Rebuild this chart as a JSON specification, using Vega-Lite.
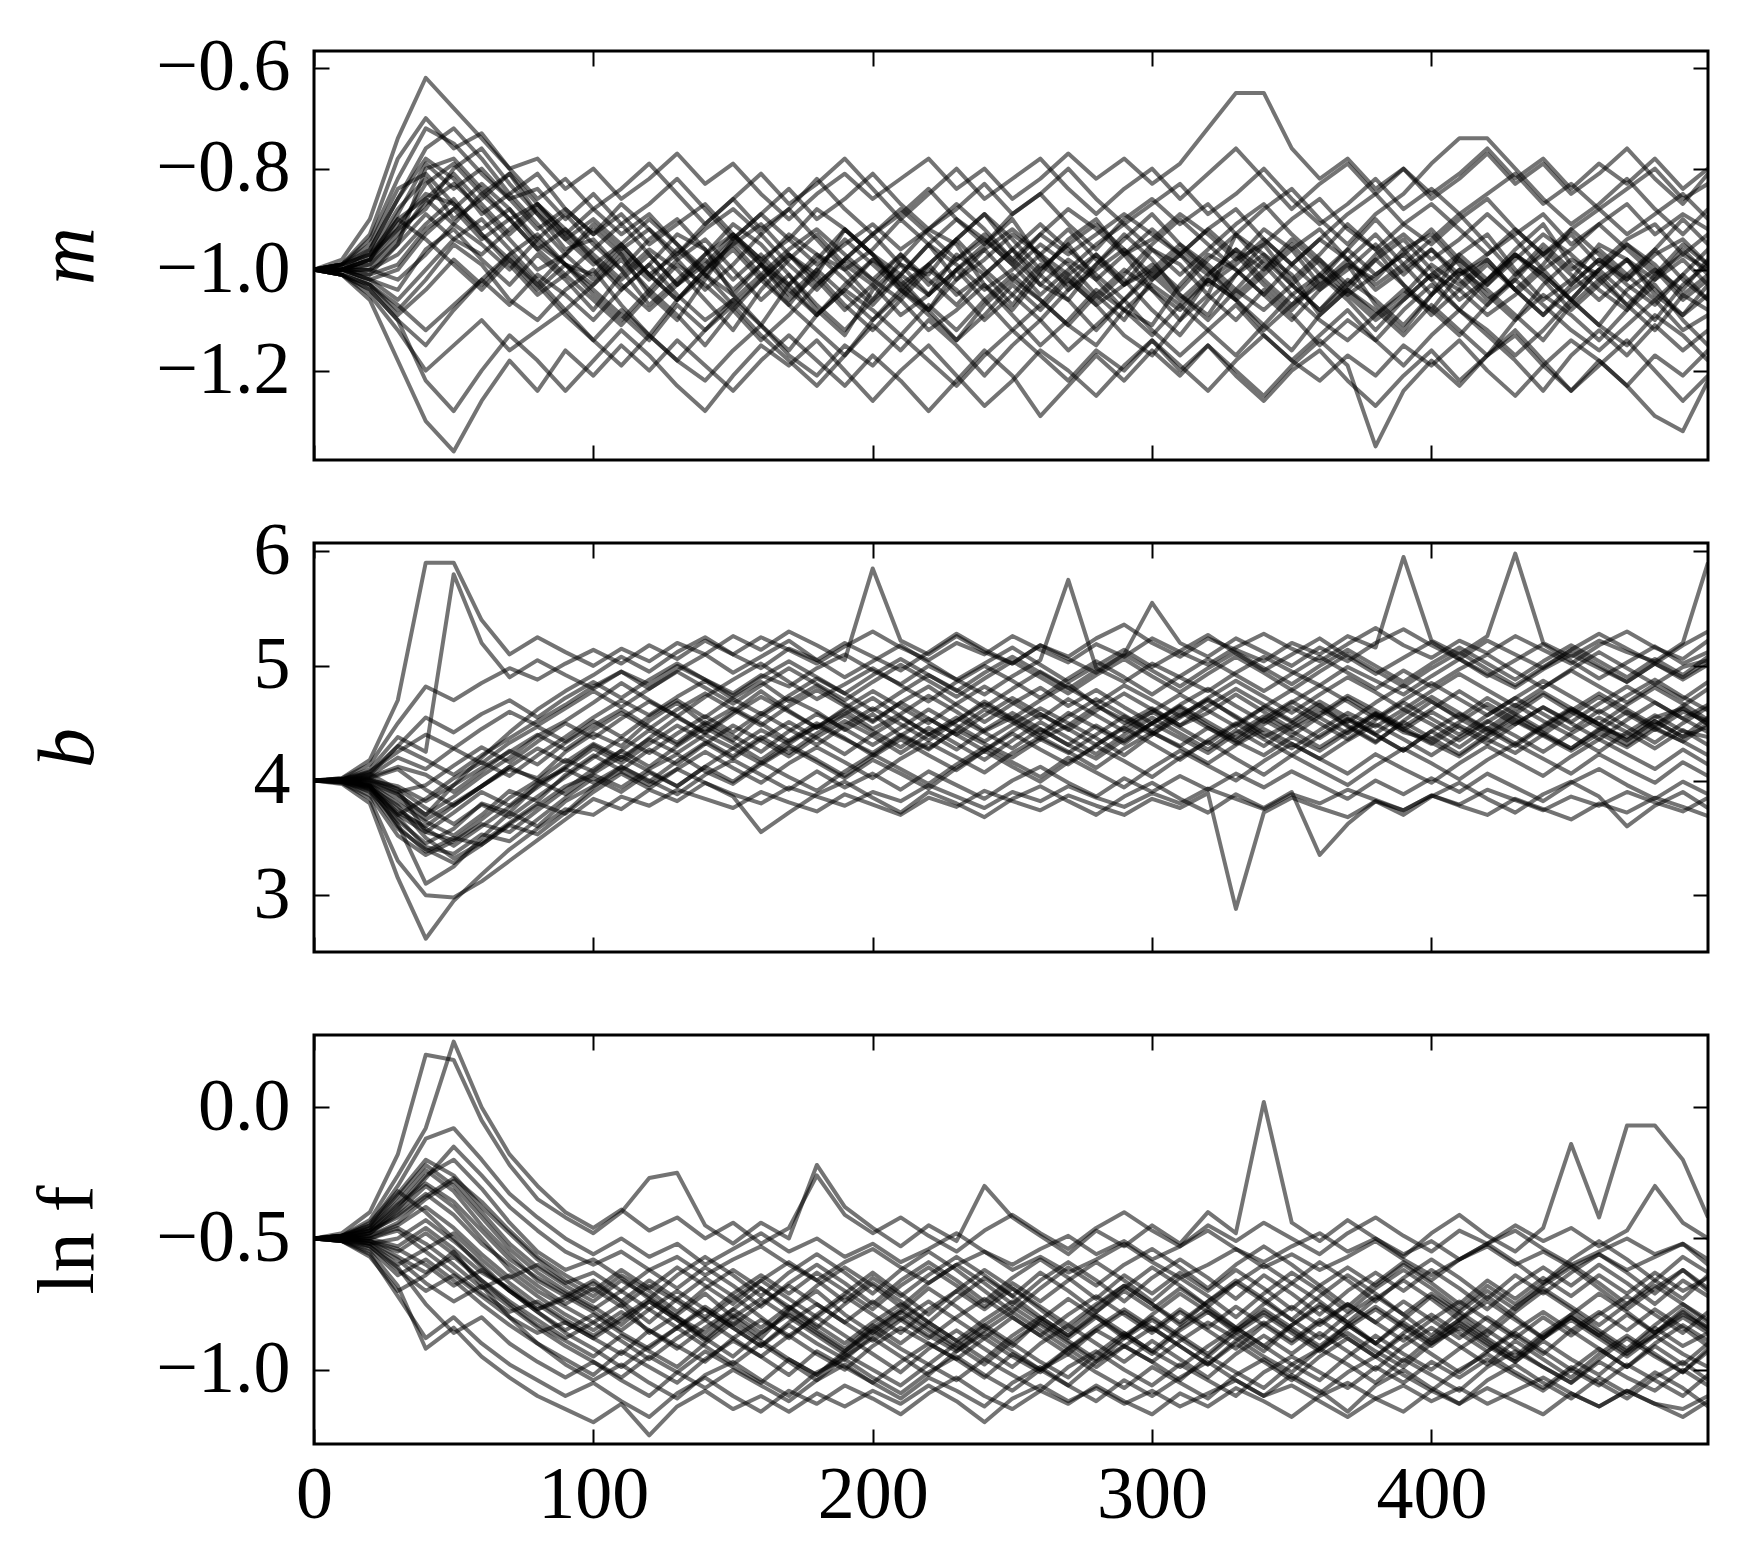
{
"$schema":"https://vega.github.io/schema/vega-lite/v6.json",
"background":"white",
"padding":{"left":26,"top":29,"right":10,"bottom":10},
"config":{
 "font":"Liberation Serif",
 "view":{"stroke":"black","strokeWidth":3},
 "axis":{"domain":false,"grid":false,"tickColor":"black","tickWidth":2,"tickSize":-15,"labelFont":"Liberation Serif","labelFontSize":74,"labelColor":"black","titleFont":"Liberation Serif","titleFontSize":80,"titleColor":"black","titleFontWeight":"normal","labelFlush":false,"labelOverlap":false}
},
"datasets":{
"frame":[{"s":0,"m":-1,"b":4,"f":-0.5}],
"walkers":[
{"w":1,"s":[0,10,20,30,40,50,60,70,80,90,100,110,120,130,140,150,160,170,180,190,200,210,220,230,240,250,260,270,280,290,300,310,320,330,340,350,360,370,380,390,400,410,420,430,440,450,460,470,480,490,499],
"m":[-1.00,-1.00,-0.98,-0.91,-0.85,-0.87,-0.92,-0.88,-0.95,-0.99,-1.03,-0.97,-1.05,-1.10,-1.02,-0.94,-0.99,-1.06,-1.01,-0.92,-0.97,-1.04,-1.08,-1.00,-0.95,-0.90,-0.98,-1.02,-1.07,-1.03,-0.96,-0.99,-1.05,-0.93,-0.97,-1.01,-1.09,-1.04,-0.98,-0.94,-1.00,-1.06,-1.02,-0.96,-0.91,-0.99,-1.04,-1.08,-1.01,-0.97,-1.00],
"b":[4.00,4.00,3.95,3.72,3.60,3.78,3.95,4.10,4.02,4.25,4.41,4.30,4.52,4.68,4.49,4.35,4.56,4.72,4.60,4.44,4.58,4.39,4.27,4.45,4.62,4.51,4.36,4.48,4.65,4.53,4.40,4.57,4.71,4.55,4.38,4.50,4.66,4.47,4.33,4.52,4.69,4.54,4.41,4.58,4.75,4.60,4.46,4.38,4.55,4.63,4.49],
"f":[-0.50,-0.50,-0.48,-0.40,-0.30,-0.38,-0.50,-0.62,-0.70,-0.76,-0.82,-0.75,-0.86,-0.79,-0.71,-0.80,-0.88,-0.77,-0.70,-0.79,-0.86,-0.78,-0.69,-0.76,-0.84,-0.91,-0.81,-0.73,-0.80,-0.88,-0.79,-0.71,-0.78,-0.86,-0.93,-0.83,-0.75,-0.82,-0.90,-0.81,-0.72,-0.79,-0.87,-0.78,-0.70,-0.77,-0.85,-0.92,-0.83,-0.75,-0.81]},
{"w":2,"s":[0,10,20,30,40,50,60,70,80,90,100,110,120,130,140,150,160,170,180,190,200,210,220,230,240,250,260,270,280,290,300,310,320,330,340,350,360,370,380,390,400,410,420,430,440,450,460,470,480,490,499],
"m":[-1.00,-1.00,-1.01,-0.95,-0.80,-0.78,-0.84,-0.90,-0.87,-0.93,-0.98,-1.04,-0.99,-0.93,-0.96,-1.05,-1.11,-1.03,-0.97,-1.00,-1.06,-0.98,-0.92,-0.95,-1.03,-1.08,-1.01,-0.94,-0.90,-0.97,-1.04,-1.10,-1.02,-0.98,-0.92,-0.96,-1.03,-0.99,-1.07,-1.12,-1.05,-0.97,-0.93,-1.00,-1.06,-1.02,-0.95,-0.98,-1.05,-1.09,-1.03],
"b":[4.00,4.01,4.06,3.92,3.55,3.48,3.66,3.85,4.00,4.18,4.08,4.26,4.44,4.31,4.49,4.63,4.50,4.34,4.47,4.61,4.45,4.58,4.74,4.60,4.43,4.55,4.41,4.59,4.46,4.32,4.50,4.64,4.48,4.35,4.53,4.39,4.56,4.72,4.57,4.42,4.36,4.51,4.67,4.53,4.40,4.57,4.73,4.58,4.44,4.60,4.52],
"f":[-0.50,-0.49,-0.46,-0.36,-0.24,-0.32,-0.45,-0.56,-0.66,-0.72,-0.66,-0.74,-0.82,-0.73,-0.65,-0.72,-0.80,-0.88,-0.79,-0.71,-0.63,-0.71,-0.79,-0.70,-0.62,-0.69,-0.77,-0.85,-0.76,-0.68,-0.75,-0.83,-0.74,-0.66,-0.73,-0.81,-0.72,-0.64,-0.71,-0.79,-0.87,-0.78,-0.70,-0.77,-0.68,-0.61,-0.69,-0.77,-0.69,-0.62,-0.70]},
{"w":3,"s":[0,10,20,30,40,50,60,70,80,90,100,110,120,130,140,150,160,170,180,190,200,210,220,230,240,250,260,270,280,290,300,310,320,330,340,350,360,370,380,390,400,410,420,430,440,450,460,470,480,490,499],
"m":[-1.00,-0.99,-0.97,-0.88,-0.82,-0.90,-0.86,-0.81,-0.89,-0.96,-0.94,-1.00,-1.07,-1.02,-0.97,-0.91,-0.95,-1.01,-1.08,-1.13,-1.04,-0.99,-1.01,-0.94,-0.89,-0.96,-1.03,-1.06,-0.99,-0.93,-0.98,-1.05,-1.09,-1.01,-0.95,-1.02,-0.97,-0.91,-0.96,-1.03,-1.08,-1.01,-0.98,-1.04,-0.99,-0.92,-0.97,-1.02,-0.96,-0.90,-0.95],
"b":[4.00,3.99,3.91,3.65,3.45,3.58,3.80,3.72,3.96,4.12,4.31,4.18,4.37,4.55,4.42,4.60,4.78,4.61,4.46,4.58,4.72,4.56,4.40,4.52,4.69,4.54,4.70,4.84,4.66,4.50,4.63,4.48,4.59,4.75,4.60,4.45,4.58,4.74,4.61,4.47,4.62,4.78,4.63,4.49,4.64,4.51,4.67,4.82,4.68,4.54,4.66],
"f":[-0.50,-0.50,-0.51,-0.55,-0.48,-0.56,-0.66,-0.75,-0.83,-0.89,-0.95,-0.87,-0.93,-0.99,-0.90,-0.82,-0.89,-0.96,-1.02,-0.93,-0.85,-0.92,-0.98,-0.90,-0.83,-0.90,-0.97,-1.03,-0.94,-0.86,-0.93,-0.99,-0.91,-0.84,-0.91,-0.98,-1.04,-0.95,-0.87,-0.94,-1.00,-0.92,-0.85,-0.92,-0.99,-1.05,-0.96,-0.88,-0.95,-1.01,-0.93]},
{"w":4,"s":[0,10,20,30,40,50,60,70,80,90,100,110,120,130,140,150,160,170,180,190,200,210,220,230,240,250,260,270,280,290,300,310,320,330,340,350,360,370,380,390,400,410,420,430,440,450,460,470,480,490,499],
"m":[-1.00,-1.00,-1.02,-1.04,-0.96,-0.92,-0.98,-1.03,-0.97,-1.02,-1.08,-1.01,-0.96,-1.00,-1.06,-1.12,-1.04,-0.98,-0.93,-0.99,-1.03,-1.09,-1.05,-0.97,-1.01,-1.07,-1.00,-0.95,-1.02,-1.08,-1.11,-1.03,-0.97,-1.00,-1.05,-1.10,-1.04,-0.99,-1.02,-0.96,-0.93,-0.99,-1.05,-1.10,-1.03,-0.98,-1.01,-1.07,-1.12,-1.05,-1.08],
"b":[4.00,4.00,4.03,4.12,4.05,3.90,4.08,4.26,4.14,4.33,4.48,4.62,4.47,4.33,4.51,4.39,4.25,4.43,4.58,4.45,4.31,4.46,4.62,4.48,4.34,4.49,4.63,4.50,4.37,4.22,4.40,4.55,4.70,4.56,4.41,4.28,4.44,4.59,4.47,4.62,4.49,4.35,4.51,4.66,4.52,4.39,4.25,4.42,4.57,4.43,4.38],
"f":[-0.50,-0.50,-0.49,-0.44,-0.35,-0.28,-0.40,-0.52,-0.61,-0.68,-0.74,-0.66,-0.72,-0.80,-0.86,-0.77,-0.69,-0.76,-0.84,-0.75,-0.67,-0.74,-0.82,-0.73,-0.65,-0.72,-0.80,-0.87,-0.78,-0.70,-0.77,-0.69,-0.76,-0.84,-0.75,-0.67,-0.74,-0.82,-0.73,-0.66,-0.73,-0.81,-0.72,-0.80,-0.88,-0.79,-0.71,-0.78,-0.86,-0.77,-0.84]},
{"w":5,"s":[0,10,20,30,40,50,60,70,80,90,100,110,120,130,140,150,160,170,180,190,200,210,220,230,240,250,260,270,280,290,300,310,320,330,340,350,360,370,380,390,400,410,420,430,440,450,460,470,480,490,499],
"m":[-1.00,-1.00,-0.99,-0.93,-0.87,-0.83,-0.88,-0.94,-1.00,-0.97,-0.91,-0.96,-0.92,-0.98,-1.04,-0.99,-0.93,-0.88,-0.94,-1.00,-0.96,-0.90,-0.95,-1.02,-0.98,-0.93,-0.97,-1.04,-0.99,-0.94,-0.89,-0.95,-1.00,-1.06,-1.01,-0.96,-0.92,-0.98,-1.03,-0.99,-0.94,-0.89,-0.95,-1.01,-0.97,-0.93,-0.99,-0.94,-0.91,-0.97,-0.93],
"b":[4.00,4.00,3.97,3.80,3.64,3.52,3.70,3.91,3.82,4.05,4.22,4.09,4.27,4.14,4.32,4.48,4.35,4.21,4.38,4.52,4.39,4.24,4.40,4.55,4.42,4.28,4.45,4.31,4.19,4.36,4.50,4.37,4.24,4.41,4.56,4.43,4.29,4.44,4.59,4.46,4.33,4.21,4.38,4.52,4.39,4.26,4.41,4.29,4.45,4.34,4.22],
"f":[-0.50,-0.51,-0.53,-0.62,-0.70,-0.64,-0.72,-0.80,-0.86,-0.82,-0.88,-0.94,-0.85,-0.91,-0.97,-0.88,-0.81,-0.87,-0.94,-1.00,-0.91,-0.84,-0.90,-0.96,-0.88,-0.95,-1.01,-0.92,-0.85,-0.91,-0.97,-0.89,-0.82,-0.88,-0.95,-1.01,-0.92,-0.86,-0.93,-0.99,-0.90,-0.84,-0.91,-0.97,-0.89,-0.96,-1.02,-0.93,-0.87,-0.94,-0.99]},
{"w":6,"s":[0,10,20,30,40,50,60,70,80,90,100,110,120,130,140,150,160,170,180,190,200,210,220,230,240,250,260,270,280,290,300,310,320,330,340,350,360,370,380,390,400,410,420,430,440,450,460,470,480,490,499],
"m":[-1.00,-1.01,-1.03,-1.08,-1.02,-0.95,-0.99,-1.06,-1.10,-1.04,-1.00,-1.07,-1.13,-1.06,-1.01,-1.05,-0.99,-1.03,-1.09,-1.04,-0.98,-1.02,-1.08,-1.14,-1.07,-1.02,-1.06,-1.11,-1.05,-1.00,-1.04,-1.08,-1.02,-1.06,-1.12,-1.07,-1.01,-1.05,-1.10,-1.06,-1.01,-1.04,-1.09,-1.05,-1.00,-1.06,-1.11,-1.04,-1.00,-1.06,-1.02],
"b":[4.00,3.99,3.93,3.70,3.84,4.02,4.16,4.04,4.22,4.38,4.55,4.70,4.57,4.73,4.87,4.71,4.58,4.74,4.89,4.76,4.61,4.77,4.92,4.79,4.64,4.80,4.95,4.81,4.67,4.83,4.70,4.56,4.72,4.87,4.73,4.59,4.75,4.90,4.77,4.62,4.78,4.93,4.79,4.65,4.81,4.96,4.82,4.68,4.84,4.71,4.86],
"f":[-0.50,-0.50,-0.47,-0.38,-0.26,-0.20,-0.31,-0.44,-0.55,-0.62,-0.58,-0.65,-0.73,-0.64,-0.57,-0.64,-0.72,-0.63,-0.56,-0.63,-0.71,-0.62,-0.55,-0.62,-0.70,-0.78,-0.69,-0.61,-0.68,-0.60,-0.54,-0.61,-0.69,-0.60,-0.53,-0.60,-0.68,-0.76,-0.67,-0.59,-0.66,-0.58,-0.52,-0.59,-0.67,-0.58,-0.51,-0.58,-0.66,-0.57,-0.63]},
{"w":7,"s":[0,10,20,30,40,50,60,70,80,90,100,110,120,130,140,150,160,170,180,190,200,210,220,230,240,250,260,270,280,290,300,310,320,330,340,350,360,370,380,390,400,410,420,430,440,450,460,470,480,490,499],
"m":[-1.00,-1.00,-0.98,-0.89,-0.79,-0.84,-0.80,-0.86,-0.92,-0.88,-0.93,-0.89,-0.95,-0.91,-0.87,-0.93,-0.98,-0.94,-0.88,-0.92,-0.97,-1.01,-0.95,-0.90,-0.94,-0.99,-0.93,-0.88,-0.92,-0.97,-0.94,-0.89,-0.93,-0.98,-0.95,-0.90,-0.86,-0.92,-0.96,-0.91,-0.87,-0.92,-0.97,-0.93,-0.89,-0.95,-0.91,-0.87,-0.93,-0.89,-0.92],
"b":[4.00,4.00,3.96,3.60,3.38,3.50,3.44,3.62,3.78,3.95,4.05,3.94,4.10,4.23,4.08,3.97,4.14,4.29,4.16,4.02,4.18,4.06,3.93,4.11,4.26,4.12,3.99,4.16,4.30,4.17,4.03,4.20,4.34,4.19,4.05,4.22,4.09,3.96,4.13,4.28,4.15,4.01,4.18,4.32,4.19,4.06,4.23,4.10,3.98,4.16,4.04],
"f":[-0.50,-0.50,-0.52,-0.50,-0.43,-0.51,-0.60,-0.70,-0.78,-0.85,-0.79,-0.86,-0.92,-0.84,-0.77,-0.84,-0.91,-0.83,-0.90,-0.96,-0.87,-0.80,-0.87,-0.93,-0.85,-0.78,-0.85,-0.92,-0.84,-0.77,-0.84,-0.91,-0.98,-0.89,-0.82,-0.89,-0.81,-0.88,-0.95,-0.86,-0.79,-0.86,-0.93,-0.85,-0.78,-0.85,-0.92,-0.99,-0.90,-0.83,-0.89]},
{"w":8,"s":[0,10,20,30,40,50,60,70,80,90,100,110,120,130,140,150,160,170,180,190,200,210,220,230,240,250,260,270,280,290,300,310,320,330,340,350,360,370,380,390,400,410,420,430,440,450,460,470,480,490,499],
"m":[-1.00,-1.00,-1.00,-0.97,-0.91,-0.86,-0.93,-0.99,-1.05,-1.01,-1.06,-1.11,-1.05,-0.99,-1.03,-1.08,-1.14,-1.09,-1.03,-0.98,-1.02,-1.06,-1.12,-1.08,-1.03,-1.09,-1.15,-1.10,-1.04,-1.08,-1.13,-1.07,-1.02,-1.06,-1.11,-1.16,-1.09,-1.04,-1.08,-1.13,-1.07,-1.12,-1.17,-1.10,-1.05,-1.09,-1.14,-1.08,-1.03,-1.10,-1.15],
"b":[4.00,4.01,4.02,3.88,3.70,3.86,4.04,4.20,4.39,4.52,4.68,4.85,4.70,4.56,4.73,4.88,5.02,4.86,4.71,4.84,4.98,4.83,4.69,4.86,5.00,4.87,4.72,4.89,5.04,4.90,4.75,4.91,5.06,4.92,4.78,4.93,5.08,4.94,4.80,4.96,4.82,4.97,5.10,4.95,4.81,4.97,5.12,4.98,4.84,4.99,5.05],
"f":[-0.50,-0.49,-0.45,-0.33,-0.20,-0.26,-0.38,-0.48,-0.58,-0.66,-0.72,-0.64,-0.70,-0.78,-0.69,-0.62,-0.69,-0.77,-0.68,-0.61,-0.68,-0.76,-0.67,-0.60,-0.67,-0.75,-0.66,-0.59,-0.66,-0.74,-0.65,-0.58,-0.65,-0.73,-0.64,-0.71,-0.79,-0.70,-0.63,-0.70,-0.62,-0.69,-0.77,-0.68,-0.61,-0.68,-0.60,-0.67,-0.75,-0.66,-0.72]},
{"w":9,"s":[0,10,20,30,40,50,60,70,80,90,100,110,120,130,140,150,160,170,180,190,200,210,220,230,240,250,260,270,280,290,300,310,320,330,340,350,360,370,380,390,400,410,420,430,440,450,460,470,480,490,499],
"m":[-1.00,-0.99,-0.96,-0.86,-0.78,-0.82,-0.89,-0.85,-0.91,-0.97,-1.02,-0.96,-1.01,-1.06,-1.00,-0.95,-0.91,-0.97,-1.03,-0.98,-0.93,-0.99,-1.05,-1.00,-0.96,-1.02,-0.97,-0.92,-0.98,-1.03,-0.99,-1.04,-0.98,-0.93,-0.99,-1.05,-1.01,-0.96,-0.90,-0.96,-1.02,-0.98,-1.03,-0.97,-1.01,-1.06,-1.00,-0.95,-1.00,-1.04,-0.98],
"b":[4.00,3.98,3.87,3.52,3.35,3.47,3.62,3.55,3.74,3.92,4.10,4.26,4.12,4.30,4.46,4.33,4.18,4.35,4.50,4.37,4.22,4.39,4.54,4.40,4.26,4.43,4.58,4.45,4.31,4.47,4.60,4.46,4.32,4.49,4.64,4.51,4.37,4.53,4.40,4.26,4.43,4.58,4.44,4.30,4.47,4.62,4.49,4.35,4.52,4.38,4.47],
"f":[-0.50,-0.50,-0.50,-0.47,-0.55,-0.63,-0.71,-0.78,-0.74,-0.81,-0.87,-0.80,-0.73,-0.80,-0.88,-0.95,-0.86,-0.79,-0.86,-0.93,-0.84,-0.77,-0.84,-0.91,-0.98,-0.89,-0.82,-0.89,-0.96,-0.87,-0.80,-0.87,-0.94,-0.85,-0.78,-0.85,-0.92,-0.83,-0.90,-0.97,-0.88,-0.81,-0.88,-0.95,-0.86,-0.79,-0.86,-0.93,-0.84,-0.91,-0.86]},
{"w":10,"s":[0,10,20,30,40,50,60,70,80,90,100,110,120,130,140,150,160,170,180,190,200,210,220,230,240,250,260,270,280,290,300,310,320,330,340,350,360,370,380,390,400,410,420,430,440,450,460,470,480,490,499],
"m":[-1.00,-1.00,-1.02,-1.06,-1.00,-0.94,-0.90,-0.96,-1.02,-1.08,-1.03,-0.98,-1.04,-1.09,-1.15,-1.08,-1.02,-0.97,-1.01,-1.07,-1.12,-1.06,-1.00,-1.04,-1.10,-1.05,-0.99,-1.03,-0.97,-1.02,-1.08,-1.13,-1.06,-1.01,-0.97,-1.03,-1.08,-1.02,-1.06,-1.11,-1.05,-1.00,-1.04,-1.09,-1.14,-1.07,-1.02,-0.98,-1.04,-1.09,-1.05],
"b":[4.00,4.00,4.04,4.20,4.10,4.28,4.15,4.33,4.47,4.34,4.52,4.38,4.56,4.70,4.55,4.72,4.86,4.69,4.83,4.67,4.52,4.68,4.82,4.66,4.51,4.67,4.81,4.65,4.79,4.64,4.50,4.66,4.80,4.65,4.51,4.68,4.83,4.69,4.54,4.70,4.85,4.71,4.57,4.72,4.87,4.73,4.59,4.74,4.88,4.73,4.61],
"f":[-0.50,-0.51,-0.54,-0.64,-0.58,-0.66,-0.75,-0.83,-0.90,-0.96,-1.02,-0.93,-0.99,-1.05,-0.96,-0.89,-0.95,-1.02,-0.93,-0.99,-1.05,-0.97,-0.90,-0.96,-1.03,-0.94,-1.00,-1.06,-0.97,-0.91,-0.97,-1.04,-0.95,-1.01,-1.07,-0.98,-0.92,-0.98,-1.05,-0.96,-1.02,-1.08,-0.99,-0.93,-0.99,-1.05,-0.97,-1.03,-1.08,-1.00,-1.06]},
{"w":11,"s":[0,10,20,30,40,50,60,70,80,90,100,110,120,130,140,150,160,170,180,190,200,210,220,230,240,250,260,270,280,290,300,310,320,330,340,350,360,370,380,390,400,410,420,430,440,450,460,470,480,490,499],
"m":[-1.00,-1.00,-0.97,-0.92,-0.88,-0.80,-0.76,-0.83,-0.89,-0.94,-0.90,-0.95,-1.01,-0.97,-0.92,-0.88,-0.93,-0.99,-1.04,-0.98,-0.93,-0.88,-0.93,-0.98,-0.94,-0.99,-1.05,-1.00,-0.95,-0.91,-0.96,-1.01,-0.96,-0.91,-0.87,-0.93,-0.98,-1.03,-0.97,-0.93,-0.98,-0.94,-0.89,-0.94,-1.00,-0.96,-0.91,-0.96,-1.01,-0.95,-0.99],
"b":[4.00,4.00,3.94,3.78,3.50,3.32,3.46,3.63,3.80,3.71,3.90,4.06,3.93,4.10,4.25,4.11,3.98,4.15,4.29,4.16,4.02,4.19,4.33,4.20,4.07,4.24,4.38,4.25,4.11,4.28,4.42,4.29,4.15,4.31,4.45,4.32,4.19,4.35,4.49,4.36,4.22,4.38,4.52,4.39,4.25,4.41,4.55,4.42,4.28,4.44,4.31],
"f":[-0.50,-0.50,-0.48,-0.41,-0.33,-0.41,-0.52,-0.60,-0.68,-0.75,-0.69,-0.76,-0.68,-0.74,-0.81,-0.73,-0.66,-0.73,-0.80,-0.72,-0.79,-0.86,-0.77,-0.70,-0.77,-0.69,-0.76,-0.83,-0.75,-0.68,-0.75,-0.82,-0.74,-0.67,-0.74,-0.81,-0.88,-0.79,-0.72,-0.79,-0.71,-0.78,-0.85,-0.76,-0.69,-0.76,-0.83,-0.75,-0.68,-0.75,-0.82]},
{"w":12,"s":[0,10,20,30,40,50,60,70,80,90,100,110,120,130,140,150,160,170,180,190,200,210,220,230,240,250,260,270,280,290,300,310,320,330,340,350,360,370,380,390,400,410,420,430,440,450,460,470,480,490,499],
"m":[-1.00,-1.01,-1.04,-1.10,-1.15,-1.08,-1.02,-1.07,-1.01,-1.05,-1.10,-1.04,-0.99,-1.05,-1.10,-1.06,-1.11,-1.16,-1.09,-1.04,-1.08,-1.13,-1.07,-1.12,-1.06,-1.01,-1.06,-1.11,-1.15,-1.08,-1.03,-1.07,-1.12,-1.17,-1.11,-1.05,-1.10,-1.14,-1.09,-1.04,-1.08,-1.13,-1.07,-1.02,-1.07,-1.12,-1.16,-1.11,-1.06,-1.12,-1.09],
"b":[4.00,4.01,4.08,4.25,4.40,4.28,4.45,4.60,4.48,4.63,4.78,4.64,4.80,4.95,4.81,4.67,4.83,4.98,4.84,4.70,4.86,5.01,4.87,4.73,4.89,5.04,4.90,4.76,4.92,5.06,4.91,4.77,4.93,5.08,4.94,4.79,4.95,5.10,4.96,4.82,4.98,5.12,4.97,4.83,4.99,5.14,5.00,4.86,5.02,4.88,5.01],
"f":[-0.50,-0.50,-0.51,-0.57,-0.63,-0.57,-0.66,-0.74,-0.81,-0.88,-0.82,-0.89,-0.96,-0.88,-0.81,-0.88,-0.95,-0.87,-0.80,-0.87,-0.94,-1.01,-0.92,-0.85,-0.92,-0.99,-0.90,-0.83,-0.90,-0.97,-0.89,-0.96,-1.03,-0.94,-0.87,-0.94,-0.86,-0.93,-1.00,-0.91,-0.84,-0.91,-0.98,-0.89,-0.96,-1.03,-0.94,-0.87,-0.94,-1.01,-0.92]},
{"w":13,"s":[0,10,20,30,40,50,60,70,80,90,100,110,120,130,140,150,160,170,180,190,200,210,220,230,240,250,260,270,280,290,300,310,320,330,340,350,360,370,380,390,400,410,420,430,440,450,460,470,480,490,499],
"m":[-1.00,-1.00,-0.99,-0.94,-0.86,-0.91,-0.95,-1.00,-0.94,-0.89,-0.95,-1.00,-0.94,-0.90,-0.96,-1.02,-0.97,-1.03,-0.98,-0.92,-0.97,-1.03,-1.08,-1.02,-0.96,-0.92,-0.97,-1.01,-1.06,-1.01,-0.95,-0.90,-0.95,-1.00,-1.05,-0.99,-0.94,-0.98,-1.04,-1.00,-0.96,-1.01,-0.97,-0.92,-0.97,-1.03,-0.98,-1.02,-0.97,-0.94,-0.99],
"b":[4.00,4.00,3.98,3.84,3.66,3.80,3.95,4.12,4.00,3.88,4.06,4.21,4.08,3.95,4.12,4.28,4.15,4.31,4.18,4.04,4.21,4.36,4.22,4.09,4.26,4.41,4.27,4.14,4.31,4.46,4.32,4.18,4.35,4.50,4.36,4.22,4.39,4.54,4.40,4.26,4.43,4.29,4.46,4.32,4.48,4.63,4.49,4.35,4.52,4.38,4.55],
"f":[-0.50,-0.49,-0.47,-0.37,-0.29,-0.36,-0.47,-0.58,-0.65,-0.71,-0.77,-0.70,-0.77,-0.84,-0.76,-0.83,-0.75,-0.68,-0.75,-0.82,-0.74,-0.81,-0.88,-0.80,-0.73,-0.80,-0.87,-0.79,-0.72,-0.79,-0.86,-0.78,-0.85,-0.92,-0.83,-0.76,-0.83,-0.75,-0.82,-0.89,-0.81,-0.74,-0.81,-0.88,-0.80,-0.87,-0.79,-0.72,-0.79,-0.86,-0.78]},
{"w":14,"s":[0,10,20,30,40,50,60,70,80,90,100,110,120,130,140,150,160,170,180,190,200,210,220,230,240,250,260,270,280,290,300,310,320,330,340,350,360,370,380,390,400,410,420,430,440,450,460,470,480,490,499],
"m":[-1.00,-1.00,-1.01,-0.99,-0.92,-0.88,-0.94,-0.90,-0.96,-1.01,-0.96,-0.91,-0.97,-1.03,-0.98,-1.04,-0.99,-0.93,-0.97,-1.02,-1.07,-1.01,-0.95,-0.99,-1.04,-1.00,-0.95,-0.99,-1.05,-1.10,-1.02,-0.97,-1.01,-0.96,-1.02,-1.07,-1.03,-0.98,-0.93,-0.99,-1.05,-1.00,-1.06,-1.02,-0.96,-1.01,-1.06,-1.01,-0.96,-1.02,-1.06],
"b":[4.00,4.00,4.01,3.93,3.76,3.62,3.79,3.68,3.86,4.03,4.20,4.37,4.24,4.41,4.56,4.42,4.59,4.45,4.31,4.48,4.63,4.49,4.35,4.52,4.67,4.53,4.39,4.56,4.71,4.57,4.43,4.60,4.46,4.32,4.49,4.64,4.50,4.36,4.53,4.68,4.54,4.40,4.57,4.72,4.58,4.44,4.61,4.47,4.33,4.50,4.64],
"f":[-0.50,-0.50,-0.50,-0.53,-0.46,-0.54,-0.63,-0.69,-0.77,-0.72,-0.78,-0.85,-0.77,-0.70,-0.77,-0.84,-0.91,-0.82,-0.75,-0.82,-0.89,-0.81,-0.74,-0.81,-0.88,-0.80,-0.87,-0.94,-0.85,-0.78,-0.85,-0.77,-0.84,-0.76,-0.83,-0.90,-0.82,-0.75,-0.82,-0.74,-0.81,-0.88,-0.80,-0.87,-0.94,-0.85,-0.78,-0.85,-0.77,-0.84,-0.91]},
{"w":15,"s":[0,10,20,30,40,50,60,70,80,90,100,110,120,130,140,150,160,170,180,190,200,210,220,230,240,250,260,270,280,290,300,310,320,330,340,350,360,370,380,390,400,410,420,430,440,450,460,470,480,490,499],
"m":[-1.00,-0.99,-0.95,-0.84,-0.81,-0.87,-0.93,-0.98,-1.04,-0.99,-1.05,-1.10,-1.04,-0.98,-0.94,-1.00,-1.06,-1.01,-1.07,-1.12,-1.06,-1.01,-1.05,-1.00,-1.06,-1.12,-1.07,-1.01,-0.97,-1.03,-1.00,-0.95,-0.99,-1.04,-1.08,-1.03,-0.98,-1.04,-1.09,-1.05,-0.99,-1.03,-0.98,-1.04,-1.09,-1.04,-1.00,-1.05,-1.10,-1.03,-0.99],
"b":[4.00,3.99,3.90,3.58,3.40,3.28,3.44,3.61,3.53,3.72,3.94,4.12,3.99,4.17,4.33,4.19,4.36,4.51,4.37,4.23,4.40,4.55,4.41,4.27,4.44,4.59,4.45,4.31,4.48,4.34,4.50,4.65,4.51,4.37,4.54,4.69,4.55,4.41,4.58,4.44,4.60,4.46,4.32,4.49,4.64,4.50,4.36,4.53,4.68,4.54,4.42],
"f":[-0.50,-0.51,-0.52,-0.58,-0.67,-0.74,-0.68,-0.76,-0.84,-0.91,-0.97,-1.03,-0.95,-1.01,-0.93,-0.99,-1.05,-0.96,-1.02,-0.94,-1.00,-1.06,-0.98,-1.04,-0.96,-1.02,-1.08,-0.99,-0.93,-1.00,-1.06,-0.98,-1.04,-1.10,-1.01,-0.95,-1.01,-1.07,-0.99,-1.05,-0.97,-1.03,-0.96,-1.02,-1.08,-1.00,-1.06,-0.98,-1.04,-1.10,-1.02]},
{"w":16,"s":[0,10,20,30,40,50,60,70,80,90,100,110,120,130,140,150,160,170,180,190,200,210,220,230,240,250,260,270,280,290,300,310,320,330,340,350,360,370,380,390,400,410,420,430,440,450,460,470,480,490,499],
"m":[-1.00,-1.00,-1.00,-0.95,-0.89,-0.94,-0.97,-0.92,-0.87,-0.92,-0.98,-1.03,-1.08,-1.03,-0.97,-0.93,-0.99,-1.05,-1.00,-1.05,-1.10,-1.05,-0.99,-0.94,-1.00,-1.05,-1.10,-1.04,-1.00,-0.96,-1.01,-1.06,-1.01,-0.96,-1.00,-0.95,-1.01,-1.06,-1.12,-1.06,-1.01,-0.97,-1.02,-0.97,-1.02,-1.08,-1.03,-0.98,-1.02,-0.98,-1.03],
"b":[4.00,4.00,4.00,3.95,3.82,3.96,4.11,4.25,4.40,4.27,4.44,4.59,4.45,4.62,4.76,4.62,4.48,4.65,4.79,4.65,4.51,4.68,4.54,4.40,4.57,4.72,4.58,4.44,4.61,4.76,4.62,4.48,4.65,4.80,4.66,4.52,4.69,4.55,4.41,4.58,4.73,4.59,4.45,4.62,4.77,4.63,4.49,4.66,4.81,4.67,4.53],
"f":[-0.50,-0.50,-0.49,-0.45,-0.38,-0.46,-0.56,-0.65,-0.60,-0.67,-0.63,-0.70,-0.62,-0.69,-0.61,-0.68,-0.76,-0.67,-0.60,-0.67,-0.75,-0.66,-0.59,-0.66,-0.74,-0.65,-0.58,-0.65,-0.73,-0.64,-0.71,-0.63,-0.70,-0.62,-0.69,-0.77,-0.68,-0.61,-0.68,-0.60,-0.67,-0.75,-0.66,-0.73,-0.65,-0.72,-0.64,-0.71,-0.63,-0.70,-0.65]},
{"w":17,"s":[0,10,20,30,40,50,60,70,80,90,100,110,120,130,140,150,160,170,180,190,200,210,220,230,240,250,260,270,280,290,300,310,320,330,340,350,360,370,380,390,400,410,420,430,440,450,460,470,480,490,499],
"m":[-1.00,-1.00,-0.98,-0.92,-0.83,-0.79,-0.85,-0.81,-0.87,-0.93,-0.88,-0.93,-0.89,-0.95,-1.00,-0.94,-0.89,-0.94,-0.99,-0.95,-0.91,-0.96,-0.92,-0.87,-0.92,-0.98,-0.93,-0.97,-0.93,-0.89,-0.93,-0.97,-0.92,-0.88,-0.94,-0.99,-0.94,-0.89,-0.85,-0.91,-0.95,-0.90,-0.86,-0.92,-0.97,-0.92,-0.88,-0.93,-0.89,-0.85,-0.90],
"b":[4.00,4.00,3.95,3.68,3.42,3.36,3.53,3.47,3.66,3.85,4.02,3.90,4.07,3.95,4.12,3.99,4.16,4.03,3.91,4.08,4.23,4.10,3.97,4.14,4.29,4.16,4.03,4.20,4.07,3.94,4.11,4.26,4.13,4.00,4.17,4.32,4.19,4.06,4.23,4.10,3.98,4.15,4.30,4.17,4.04,4.21,4.36,4.23,4.10,4.27,4.14],
"f":[-0.50,-0.50,-0.46,-0.34,-0.22,-0.30,-0.42,-0.54,-0.63,-0.70,-0.76,-0.83,-0.74,-0.81,-0.88,-0.79,-0.86,-0.78,-0.85,-0.92,-0.83,-0.90,-0.82,-0.89,-0.81,-0.74,-0.81,-0.88,-0.80,-0.87,-0.94,-0.85,-0.78,-0.85,-0.77,-0.84,-0.91,-0.83,-0.76,-0.83,-0.90,-0.82,-0.89,-0.96,-0.87,-0.80,-0.87,-0.79,-0.86,-0.78,-0.85]},
{"w":18,"s":[0,10,20,30,40,50,60,70,80,90,100,110,120,130,140,150,160,170,180,190,200,210,220,230,240,250,260,270,280,290,300,310,320,330,340,350,360,370,380,390,400,410,420,430,440,450,460,470,480,490,499],
"m":[-1.00,-1.00,-1.03,-1.09,-1.04,-0.98,-1.03,-0.97,-0.93,-0.99,-1.04,-1.09,-1.14,-1.07,-1.12,-1.06,-1.01,-1.07,-1.12,-1.17,-1.10,-1.04,-1.09,-1.14,-1.09,-1.03,-1.08,-1.02,-1.07,-1.13,-1.17,-1.10,-1.05,-1.10,-1.04,-1.09,-1.15,-1.10,-1.14,-1.08,-1.03,-1.08,-1.12,-1.17,-1.12,-1.06,-1.11,-1.15,-1.09,-1.13,-1.18],
"b":[4.00,4.01,4.07,4.30,4.18,4.05,4.22,4.37,4.52,4.66,4.82,4.95,4.80,4.96,5.10,4.94,5.08,5.22,5.05,4.90,5.04,5.18,5.03,4.88,5.02,5.16,5.01,4.86,5.00,5.14,4.99,5.13,5.27,5.11,4.96,5.10,5.24,5.08,4.93,5.07,5.21,5.06,4.91,5.05,5.19,5.04,4.89,5.03,5.17,5.02,5.12],
"f":[-0.50,-0.50,-0.51,-0.54,-0.60,-0.68,-0.62,-0.70,-0.78,-0.86,-0.92,-0.99,-0.91,-0.84,-0.91,-0.98,-0.90,-0.97,-1.04,-0.95,-0.88,-0.95,-1.02,-0.93,-0.86,-0.93,-1.00,-0.92,-0.99,-0.91,-0.84,-0.91,-0.98,-0.90,-0.97,-1.04,-0.95,-0.88,-0.95,-0.87,-0.94,-1.01,-0.93,-0.86,-0.93,-1.00,-0.92,-0.99,-0.91,-0.98,-0.90]},
{"w":19,"s":[0,10,20,30,40,50,60,70,80,90,100,110,120,130,140,150,160,170,180,190,200,210,220,230,240,250,260,270,280,290,300,310,320,330,340,350,360,370,380,390,400,410,420,430,440,450,460,470,480,490,499],
"m":[-1.00,-1.00,-0.98,-0.90,-0.86,-0.81,-0.87,-0.93,-0.88,-0.94,-0.99,-0.95,-1.01,-1.06,-1.00,-0.95,-1.01,-0.96,-0.92,-0.97,-1.02,-0.97,-1.03,-0.98,-0.93,-0.98,-1.03,-0.98,-1.02,-0.97,-0.92,-0.97,-1.03,-0.99,-0.94,-0.99,-1.04,-1.00,-0.95,-1.01,-0.96,-1.02,-1.07,-1.01,-0.95,-1.00,-0.96,-1.01,-1.06,-1.01,-0.96],
"b":[4.00,4.00,3.96,3.75,3.58,3.43,3.60,3.77,3.94,4.11,4.28,4.15,4.32,4.48,4.35,4.21,4.38,4.24,4.41,4.57,4.43,4.29,4.46,4.32,4.18,4.35,4.51,4.37,4.23,4.40,4.55,4.41,4.27,4.44,4.30,4.47,4.62,4.48,4.34,4.51,4.37,4.23,4.40,4.56,4.42,4.28,4.45,4.31,4.48,4.63,4.49],
"f":[-0.50,-0.49,-0.47,-0.42,-0.34,-0.27,-0.36,-0.47,-0.57,-0.64,-0.70,-0.62,-0.69,-0.61,-0.68,-0.75,-0.66,-0.59,-0.66,-0.74,-0.65,-0.72,-0.64,-0.57,-0.64,-0.72,-0.63,-0.70,-0.78,-0.69,-0.61,-0.68,-0.76,-0.67,-0.60,-0.67,-0.59,-0.66,-0.74,-0.65,-0.58,-0.65,-0.73,-0.64,-0.71,-0.63,-0.56,-0.63,-0.71,-0.62,-0.69]},
{"w":20,"s":[0,10,20,30,40,50,60,70,80,90,100,110,120,130,140,150,160,170,180,190,200,210,220,230,240,250,260,270,280,290,300,310,320,330,340,350,360,370,380,390,400,410,420,430,440,450,460,470,480,490,499],
"m":[-1.00,-1.00,-1.00,-1.02,-0.97,-0.91,-0.85,-0.90,-0.96,-0.92,-0.97,-1.02,-0.97,-1.03,-0.99,-0.93,-0.98,-1.04,-1.09,-1.03,-0.98,-1.03,-0.99,-1.05,-1.01,-0.96,-0.91,-0.96,-1.01,-1.06,-1.01,-0.96,-1.00,-1.05,-1.00,-0.94,-0.99,-1.05,-1.01,-0.97,-1.02,-1.08,-1.02,-0.97,-1.01,-1.06,-1.00,-0.95,-0.99,-1.05,-1.01],
"b":[4.00,4.00,4.00,3.90,3.96,4.13,4.29,4.16,4.34,4.50,4.37,4.54,4.69,4.56,4.41,4.58,4.73,4.60,4.46,4.63,4.78,4.64,4.50,4.67,4.82,4.68,4.54,4.71,4.57,4.43,4.60,4.75,4.61,4.47,4.64,4.79,4.65,4.51,4.68,4.83,4.69,4.55,4.72,4.58,4.44,4.61,4.76,4.62,4.48,4.65,4.80],
"f":[-0.50,-0.50,-0.50,-0.46,-0.52,-0.60,-0.69,-0.64,-0.72,-0.79,-0.85,-0.78,-0.85,-0.92,-0.84,-0.77,-0.84,-0.76,-0.83,-0.90,-0.82,-0.75,-0.82,-0.89,-0.96,-0.87,-0.80,-0.87,-0.79,-0.86,-0.93,-0.84,-0.77,-0.84,-0.91,-0.83,-0.76,-0.83,-0.90,-0.82,-0.89,-0.81,-0.74,-0.81,-0.88,-0.80,-0.87,-0.94,-0.86,-0.79,-0.84]},
{"w":21,"s":[0,10,20,30,40,50,60,70,80,90,100,110,120,130,140,150,160,170,180,190,200,210,220,230,240,250,260,270,280,290,300,310,320,330,340,350,360,370,380,390,400,410,420,430,440,450,460,470,480,490,499],
"m":[-1.00,-0.99,-0.94,-0.82,-0.72,-0.75,-0.81,-0.86,-0.84,-0.90,-0.85,-0.91,-0.87,-0.82,-0.88,-0.94,-0.89,-0.84,-0.90,-0.86,-0.81,-0.87,-0.92,-0.88,-0.83,-0.89,-0.85,-0.80,-0.86,-0.91,-0.87,-0.83,-0.89,-0.85,-0.80,-0.86,-0.91,-0.87,-0.82,-0.88,-0.84,-0.89,-0.85,-0.81,-0.87,-0.83,-0.88,-0.84,-0.80,-0.86,-0.83],
"b":[4.00,3.98,3.84,3.30,3.00,2.98,3.12,3.30,3.48,3.66,3.84,3.75,3.92,3.82,3.98,3.88,3.80,3.94,3.86,3.78,3.90,3.82,3.96,3.86,3.76,3.90,3.82,3.95,3.85,3.77,3.89,3.80,3.93,3.84,3.75,3.88,3.80,3.92,3.83,3.74,3.87,3.79,3.92,3.83,3.74,3.86,3.78,3.90,3.81,3.73,3.85],
"f":[-0.50,-0.48,-0.40,-0.18,0.20,0.18,-0.05,-0.22,-0.35,-0.42,-0.48,-0.40,-0.27,-0.25,-0.45,-0.52,-0.44,-0.50,-0.22,-0.38,-0.46,-0.53,-0.45,-0.51,-0.30,-0.42,-0.49,-0.56,-0.47,-0.53,-0.45,-0.52,-0.40,-0.48,0.02,-0.44,-0.51,-0.43,-0.50,-0.57,-0.48,-0.41,-0.49,-0.55,-0.46,-0.14,-0.42,-0.07,-0.07,-0.20,-0.42]},
{"w":22,"s":[0,10,20,30,40,50,60,70,80,90,100,110,120,130,140,150,160,170,180,190,200,210,220,230,240,250,260,270,280,290,300,310,320,330,340,350,360,370,380,390,400,410,420,430,440,450,460,470,480,490,499],
"m":[-1.00,-1.01,-1.05,-1.12,-1.20,-1.15,-1.10,-1.16,-1.12,-1.08,-1.14,-1.19,-1.13,-1.18,-1.22,-1.16,-1.11,-1.17,-1.21,-1.15,-1.19,-1.13,-1.18,-1.23,-1.17,-1.12,-1.17,-1.22,-1.16,-1.20,-1.14,-1.19,-1.24,-1.18,-1.13,-1.18,-1.22,-1.17,-1.21,-1.15,-1.19,-1.14,-1.20,-1.25,-1.19,-1.14,-1.18,-1.23,-1.17,-1.21,-1.16],
"b":[4.00,4.02,4.14,4.50,4.82,4.70,4.85,4.98,4.88,5.02,5.14,5.02,5.18,5.06,5.22,5.10,5.25,5.14,5.02,5.17,5.30,5.16,5.05,5.20,5.10,5.26,5.14,5.03,5.19,5.08,5.24,5.12,5.01,5.16,5.28,5.15,5.04,5.19,5.33,5.18,5.07,5.22,5.11,5.26,5.14,5.02,5.18,5.30,5.16,5.06,5.22],
"f":[-0.50,-0.51,-0.56,-0.72,-0.88,-0.80,-0.90,-0.98,-1.04,-1.10,-1.05,-1.12,-1.18,-1.09,-1.03,-1.10,-1.16,-1.08,-1.13,-1.06,-1.11,-1.17,-1.09,-1.03,-1.10,-1.15,-1.08,-1.13,-1.06,-1.12,-1.17,-1.09,-1.14,-1.07,-1.12,-1.18,-1.10,-1.05,-1.11,-1.16,-1.08,-1.13,-1.07,-1.12,-1.17,-1.09,-1.14,-1.08,-1.13,-1.15,-1.10]},
{"w":23,"s":[0,10,20,30,40,50,60,70,80,90,100,110,120,130,140,150,160,170,180,190,200,210,220,230,240,250,260,270,280,290,300,310,320,330,340,350,360,370,380,390,400,410,420,430,440,450,460,470,480,490,499],
"m":[-1.00,-0.99,-0.93,-0.78,-0.70,-0.76,-0.73,-0.80,-0.86,-0.82,-0.88,-0.84,-0.79,-0.85,-0.91,-0.86,-0.81,-0.87,-0.83,-0.78,-0.84,-0.90,-0.85,-0.80,-0.86,-0.82,-0.78,-0.84,-0.89,-0.84,-0.80,-0.86,-0.81,-0.76,-0.82,-0.88,-0.83,-0.79,-0.85,-0.80,-0.86,-0.82,-0.77,-0.83,-0.79,-0.85,-0.81,-0.76,-0.82,-0.87,-0.81],
"b":[4.00,3.97,3.80,3.15,2.62,2.95,3.18,3.40,3.58,3.75,3.70,3.86,3.78,3.92,3.84,3.76,3.90,3.81,3.73,3.88,3.79,3.70,3.85,3.77,3.91,3.82,3.74,3.87,3.78,3.70,3.84,3.76,3.89,2.88,3.72,3.85,3.76,3.68,3.82,3.74,3.87,3.78,3.70,3.84,3.75,3.66,3.80,3.72,3.85,3.77,3.69],
"f":[-0.50,-0.49,-0.43,-0.26,-0.08,0.25,0.00,-0.18,-0.30,-0.40,-0.46,-0.39,-0.47,-0.42,-0.50,-0.44,-0.52,-0.46,-0.26,-0.41,-0.48,-0.42,-0.49,-0.55,-0.47,-0.41,-0.48,-0.54,-0.46,-0.40,-0.47,-0.53,-0.45,-0.51,-0.44,-0.50,-0.56,-0.48,-0.42,-0.49,-0.55,-0.47,-0.52,-0.45,-0.51,-0.46,-0.53,-0.47,-0.30,-0.44,-0.50]},
{"w":24,"s":[0,10,20,30,40,50,60,70,80,90,100,110,120,130,140,150,160,170,180,190,200,210,220,230,240,250,260,270,280,290,300,310,320,330,340,350,360,370,380,390,400,410,420,430,440,450,460,470,480,490,499],
"m":[-1.00,-1.01,-1.04,-1.10,-1.22,-1.28,-1.20,-1.13,-1.18,-1.24,-1.18,-1.12,-1.17,-1.23,-1.28,-1.21,-1.15,-1.19,-1.14,-1.20,-1.26,-1.20,-1.15,-1.21,-1.27,-1.22,-1.16,-1.20,-1.25,-1.19,-1.14,-1.20,-1.15,-1.21,-1.26,-1.20,-1.16,-1.22,-1.27,-1.21,-1.16,-1.22,-1.17,-1.12,-1.18,-1.24,-1.19,-1.14,-1.20,-1.26,-1.21],
"b":[4.00,4.02,4.18,4.70,5.90,5.90,5.40,5.10,5.25,5.12,5.00,5.15,5.04,5.20,5.10,5.26,5.14,5.30,5.18,5.05,5.85,5.22,5.10,5.26,5.12,5.02,5.18,5.08,5.24,5.36,5.20,5.08,5.24,5.14,5.04,5.20,5.10,5.26,5.16,5.95,5.22,5.10,5.26,5.98,5.20,5.08,5.22,5.12,5.04,5.20,5.90],
"f":[-0.50,-0.51,-0.55,-0.68,-0.92,-0.84,-0.95,-1.03,-1.10,-1.15,-1.20,-1.13,-1.25,-1.14,-1.08,-1.15,-1.10,-1.16,-1.09,-1.14,-1.08,-1.13,-1.06,-1.12,-1.20,-1.11,-1.06,-1.12,-1.07,-1.13,-1.08,-1.14,-1.09,-1.04,-1.10,-1.06,-1.12,-1.18,-1.11,-1.06,-1.12,-1.07,-1.13,-1.08,-1.03,-1.09,-1.14,-1.08,-1.13,-1.18,-1.12]},
{"w":25,"s":[0,10,20,30,40,50,60,70,80,90,100,110,120,130,140,150,160,170,180,190,200,210,220,230,240,250,260,270,280,290,300,310,320,330,340,350,360,370,380,390,400,410,420,430,440,450,460,470,480,490,499],
"m":[-1.00,-0.98,-0.90,-0.74,-0.62,-0.68,-0.74,-0.80,-0.78,-0.84,-0.80,-0.86,-0.82,-0.77,-0.83,-0.79,-0.85,-0.90,-0.85,-0.81,-0.86,-0.82,-0.78,-0.84,-0.80,-0.86,-0.82,-0.77,-0.82,-0.78,-0.83,-0.79,-0.72,-0.65,-0.65,-0.76,-0.82,-0.78,-0.84,-0.80,-0.85,-0.81,-0.76,-0.82,-0.78,-0.84,-0.79,-0.83,-0.78,-0.84,-0.80],
"b":[4.00,4.01,4.10,4.38,4.25,5.80,5.20,4.90,5.05,4.92,4.80,4.95,4.84,5.00,4.88,4.76,4.92,4.82,4.98,5.10,4.96,4.84,5.00,4.88,4.75,4.91,5.05,5.75,4.98,4.86,5.02,4.90,4.78,4.94,5.08,4.95,4.83,4.99,4.87,4.75,4.91,5.06,4.93,4.81,4.97,5.10,4.98,4.86,5.02,4.90,5.04],
"f":[-0.50,-0.49,-0.45,-0.30,-0.12,-0.08,-0.20,-0.33,-0.42,-0.50,-0.56,-0.50,-0.57,-0.52,-0.60,-0.54,-0.48,-0.55,-0.50,-0.57,-0.52,-0.59,-0.54,-0.48,-0.55,-0.60,-0.54,-0.49,-0.56,-0.51,-0.58,-0.53,-0.47,-0.54,-0.59,-0.53,-0.48,-0.55,-0.50,-0.56,-0.51,-0.58,-0.52,-0.47,-0.54,-0.60,-0.55,-0.50,-0.56,-0.52,-0.58]},
{"w":26,"s":[0,10,20,30,40,50,60,70,80,90,100,110,120,130,140,150,160,170,180,190,200,210,220,230,240,250,260,270,280,290,300,310,320,330,340,350,360,370,380,390,400,410,420,430,440,450,460,470,480,490,499],
"m":[-1.00,-1.01,-1.06,-1.18,-1.30,-1.36,-1.26,-1.18,-1.24,-1.16,-1.21,-1.15,-1.20,-1.14,-1.19,-1.24,-1.18,-1.13,-1.18,-1.23,-1.17,-1.22,-1.28,-1.22,-1.16,-1.21,-1.29,-1.23,-1.17,-1.22,-1.16,-1.21,-1.15,-1.20,-1.25,-1.19,-1.14,-1.19,-1.35,-1.24,-1.18,-1.23,-1.17,-1.13,-1.19,-1.24,-1.18,-1.23,-1.29,-1.32,-1.22],
"b":[4.00,3.99,3.92,3.62,3.10,3.25,3.50,3.72,3.60,3.82,3.95,4.08,3.96,4.10,3.98,3.86,3.55,3.72,3.88,3.99,3.85,3.72,3.90,3.80,3.68,3.84,3.95,3.82,3.70,3.86,3.98,3.84,3.72,3.88,3.76,3.90,3.35,3.62,3.82,3.70,3.86,3.98,3.84,3.72,3.88,3.99,3.86,3.60,3.78,3.90,3.76],
"f":[-0.50,-0.51,-0.57,-0.70,-0.64,-0.55,-0.68,-0.80,-0.90,-0.98,-1.04,-0.98,-1.05,-1.11,-1.02,-0.97,-1.04,-1.10,-1.01,-0.96,-1.03,-1.09,-1.01,-0.95,-1.02,-1.08,-1.00,-0.94,-1.01,-1.07,-0.99,-1.05,-1.11,-1.02,-0.96,-1.03,-1.09,-1.01,-0.95,-1.02,-1.08,-1.00,-0.94,-1.01,-1.07,-0.99,-1.05,-1.11,-1.03,-0.97,-1.04]},
{"w":27,"s":[0,10,20,30,40,50,60,70,80,90,100,110,120,130,140,150,160,170,180,190,200,210,220,230,240,250,260,270,280,290,300,310,320,330,340,350,360,370,380,390,400,410,420,430,440,450,460,470,480,490,499],
"m":[-1.00,-1.00,-0.96,-0.86,-0.76,-0.72,-0.78,-0.85,-0.81,-0.88,-0.93,-0.87,-0.92,-0.97,-0.91,-0.86,-0.92,-0.88,-0.82,-0.88,-0.93,-0.89,-0.84,-0.90,-0.95,-0.89,-0.85,-0.91,-0.96,-0.90,-0.86,-0.91,-0.87,-0.93,-0.88,-0.84,-0.90,-0.95,-0.89,-0.85,-0.79,-0.74,-0.74,-0.80,-0.86,-0.91,-0.87,-0.82,-0.88,-0.93,-0.88],
"b":[4.00,4.00,3.98,3.88,3.70,3.96,4.20,4.42,4.62,4.78,4.92,5.08,4.95,5.12,5.25,5.10,4.98,5.15,5.05,5.20,5.08,4.96,5.12,5.28,5.14,5.02,5.18,5.06,4.94,5.10,5.55,5.20,5.08,5.24,5.12,5.00,5.16,5.04,5.20,5.32,5.18,5.06,5.22,5.10,4.98,5.14,5.28,5.15,5.02,5.18,5.30],
"f":[-0.50,-0.50,-0.48,-0.39,-0.27,-0.15,-0.26,-0.38,-0.47,-0.55,-0.60,-0.55,-0.62,-0.57,-0.64,-0.58,-0.53,-0.60,-0.66,-0.59,-0.54,-0.61,-0.67,-0.60,-0.55,-0.62,-0.57,-0.63,-0.58,-0.52,-0.59,-0.65,-0.60,-0.54,-0.61,-0.56,-0.62,-0.57,-0.51,-0.58,-0.64,-0.58,-0.53,-0.60,-0.55,-0.61,-0.56,-0.62,-0.57,-0.52,-0.60]},
{"w":28,"s":[0,10,20,30,40,50,60,70,80,90,100,110,120,130,140,150,160,170,180,190,200,210,220,230,240,250,260,270,280,290,300,310,320,330,340,350,360,370,380,390,400,410,420,430,440,450,460,470,480,490,499],
"m":[-1.00,-1.01,-1.03,-1.07,-1.12,-1.07,-1.02,-0.97,-1.03,-1.09,-1.14,-1.08,-1.13,-1.18,-1.12,-1.07,-1.13,-1.18,-1.23,-1.17,-1.11,-1.16,-1.10,-1.15,-1.21,-1.15,-1.10,-1.16,-1.11,-1.06,-1.12,-1.17,-1.12,-1.07,-1.13,-1.18,-1.13,-1.08,-1.14,-1.19,-1.13,-1.08,-1.13,-1.18,-1.24,-1.17,-1.12,-1.17,-1.11,-1.16,-1.12],
"b":[4.00,4.00,3.94,3.70,3.55,3.72,3.90,3.78,3.98,4.10,3.98,4.12,4.00,3.88,4.05,4.18,4.05,3.92,4.08,3.94,4.06,3.92,4.08,3.96,3.84,4.00,4.12,3.98,3.86,4.02,3.90,4.04,3.92,4.06,3.94,4.08,3.96,3.84,4.00,3.88,4.02,3.90,4.06,3.94,3.82,3.98,4.10,3.96,3.84,3.99,3.88],
"f":[-0.50,-0.50,-0.53,-0.61,-0.75,-0.86,-0.80,-0.90,-0.97,-1.03,-0.97,-1.04,-1.10,-1.01,-1.07,-1.00,-1.06,-1.12,-1.04,-0.98,-1.05,-1.11,-1.03,-1.08,-1.14,-1.05,-0.99,-1.06,-1.12,-1.04,-1.10,-1.03,-0.97,-1.04,-1.10,-1.02,-1.08,-1.16,-1.06,-1.00,-1.07,-1.13,-1.04,-0.98,-1.05,-1.11,-1.03,-1.09,-1.01,-1.07,-1.14]},
{"w":29,"s":[0,10,20,30,40,50,60,70,80,90,100,110,120,130,140,150,160,170,180,190,200,210,220,230,240,250,260,270,280,290,300,310,320,330,340,350,360,370,380,390,400,410,420,430,440,450,460,470,480,490,499],
"m":[-1.00,-0.99,-0.97,-0.90,-0.94,-0.99,-1.04,-0.98,-1.03,-0.97,-0.92,-0.97,-1.02,-0.96,-1.01,-1.07,-1.02,-0.97,-1.02,-1.08,-1.03,-0.97,-1.02,-1.07,-1.01,-0.96,-1.01,-1.06,-1.12,-1.06,-1.00,-1.05,-1.10,-1.04,-0.98,-1.03,-1.08,-1.03,-0.98,-1.03,-1.09,-1.04,-0.99,-1.04,-1.09,-1.03,-0.98,-1.03,-1.07,-1.01,-1.06],
"b":[4.00,4.01,4.05,4.30,4.55,4.42,4.58,4.70,4.55,4.72,4.86,4.72,4.88,5.02,4.88,4.74,4.90,5.04,4.90,4.76,4.92,5.06,4.92,4.78,4.94,5.08,4.94,4.80,4.96,5.10,4.96,4.82,4.98,5.12,4.98,4.84,5.00,5.14,5.00,4.86,5.02,5.16,5.02,4.88,5.04,5.18,5.04,4.90,5.06,4.92,5.08],
"f":[-0.50,-0.49,-0.44,-0.32,-0.40,-0.50,-0.61,-0.70,-0.77,-0.73,-0.67,-0.74,-0.66,-0.73,-0.80,-0.71,-0.64,-0.71,-0.63,-0.70,-0.77,-0.68,-0.61,-0.68,-0.76,-0.67,-0.74,-0.66,-0.59,-0.66,-0.74,-0.65,-0.72,-0.80,-0.71,-0.63,-0.70,-0.78,-0.69,-0.62,-0.69,-0.77,-0.68,-0.75,-0.67,-0.60,-0.67,-0.75,-0.66,-0.73,-0.64]},
{"w":30,"s":[0,10,20,30,40,50,60,70,80,90,100,110,120,130,140,150,160,170,180,190,200,210,220,230,240,250,260,270,280,290,300,310,320,330,340,350,360,370,380,390,400,410,420,430,440,450,460,470,480,490,499],
"m":[-1.00,-1.00,-1.02,-1.00,-0.93,-0.88,-0.83,-0.88,-0.94,-0.99,-1.01,-0.95,-0.90,-0.95,-1.01,-0.96,-1.02,-1.07,-1.00,-0.94,-0.99,-1.04,-0.99,-0.94,-0.89,-0.94,-1.00,-0.95,-0.91,-0.96,-1.02,-0.97,-0.92,-0.97,-1.03,-1.08,-1.02,-0.96,-1.01,-0.97,-0.92,-0.98,-1.03,-0.98,-0.93,-0.97,-1.02,-1.07,-1.02,-0.96,-1.01],
"b":[4.00,4.00,4.02,4.10,3.92,3.78,3.95,4.12,4.28,4.16,4.32,4.20,4.36,4.24,4.40,4.28,4.44,4.32,4.48,4.36,4.24,4.40,4.28,4.44,4.32,4.20,4.36,4.24,4.40,4.56,4.42,4.30,4.46,4.34,4.22,4.38,4.26,4.42,4.58,4.44,4.32,4.48,4.36,4.24,4.40,4.28,4.44,4.60,4.46,4.34,4.50],
"f":[-0.50,-0.50,-0.52,-0.60,-0.54,-0.48,-0.58,-0.67,-0.75,-0.82,-0.88,-0.81,-0.74,-0.81,-0.89,-0.80,-0.73,-0.80,-0.87,-0.94,-0.85,-0.78,-0.85,-0.92,-0.83,-0.76,-0.83,-0.90,-0.97,-0.88,-0.81,-0.88,-0.95,-0.86,-0.79,-0.86,-0.93,-0.84,-0.77,-0.84,-0.91,-0.83,-0.90,-0.97,-0.88,-0.81,-0.88,-0.95,-0.87,-0.80,-0.86]}
]},
"spacing":83,
"bounds":"flush",
"vconcat":[
{"width":1394,"height":409,
 "layer":[
  {"data":{"name":"walkers"},"transform":[{"flatten":["s","m","b","f"]}],
   "mark":{"type":"line","stroke":"black","strokeOpacity":0.55,"strokeWidth":4,"clip":true,"strokeJoin":"round"},
   "encoding":{
    "x":{"field":"s","type":"quantitative","scale":{"domain":[0,499],"nice":false,"zero":false},"axis":{"orient":"bottom","values":[0,100,200,300,400],"labels":false,"title":null}},
    "y":{"field":"m","type":"quantitative","scale":{"domain":[-1.377,-0.567],"nice":false,"zero":false},"axis":{"orient":"left","values":[-1.2,-1.0,-0.8,-0.6],"format":".1f","labelPadding":39,"title":"m","titleFontStyle":"italic","titleX":-222,"titleY":204.5,"titleAngle":-90,"titleAlign":"center","titleBaseline":"alphabetic"}},
    "detail":{"field":"w","type":"nominal"}}},
  {"data":{"name":"frame"},"mark":{"type":"point","opacity":0},
   "encoding":{
    "x":{"field":"s","type":"quantitative","scale":{"domain":[0,499],"nice":false,"zero":false},"axis":{"orient":"top","values":[0,100,200,300,400],"labels":false,"title":null}},
    "y":{"field":"m","type":"quantitative","scale":{"domain":[-1.377,-0.567],"nice":false,"zero":false},"axis":{"orient":"right","values":[-1.2,-1.0,-0.8,-0.6],"labels":false,"title":null}}}}
 ],
 "resolve":{"axis":{"x":"independent","y":"independent"}}},
{"width":1394,"height":409,
 "layer":[
  {"data":{"name":"walkers"},"transform":[{"flatten":["s","m","b","f"]}],
   "mark":{"type":"line","stroke":"black","strokeOpacity":0.55,"strokeWidth":4,"clip":true,"strokeJoin":"round"},
   "encoding":{
    "x":{"field":"s","type":"quantitative","scale":{"domain":[0,499],"nice":false,"zero":false},"axis":{"orient":"bottom","values":[0,100,200,300,400],"labels":false,"title":null}},
    "y":{"field":"b","type":"quantitative","scale":{"domain":[2.504,6.072],"nice":false,"zero":false},"axis":{"orient":"left","values":[3,4,5,6],"format":"d","labelPadding":39,"title":"b","titleFontStyle":"italic","titleX":-222,"titleY":204.5,"titleAngle":-90,"titleAlign":"center","titleBaseline":"alphabetic"}},
    "detail":{"field":"w","type":"nominal"}}},
  {"data":{"name":"frame"},"mark":{"type":"point","opacity":0},
   "encoding":{
    "x":{"field":"s","type":"quantitative","scale":{"domain":[0,499],"nice":false,"zero":false},"axis":{"orient":"top","values":[0,100,200,300,400],"labels":false,"title":null}},
    "y":{"field":"b","type":"quantitative","scale":{"domain":[2.504,6.072],"nice":false,"zero":false},"axis":{"orient":"right","values":[3,4,5,6],"labels":false,"title":null}}}}
 ],
 "resolve":{"axis":{"x":"independent","y":"independent"}}},
{"width":1394,"height":409,
 "layer":[
  {"data":{"name":"walkers"},"transform":[{"flatten":["s","m","b","f"]}],
   "mark":{"type":"line","stroke":"black","strokeOpacity":0.55,"strokeWidth":4,"clip":true,"strokeJoin":"round"},
   "encoding":{
    "x":{"field":"s","type":"quantitative","scale":{"domain":[0,499],"nice":false,"zero":false},"axis":{"orient":"bottom","values":[0,100,200,300,400],"format":"d","labelPadding":30,"title":null}},
    "y":{"field":"f","type":"quantitative","scale":{"domain":[-1.283,0.275],"nice":false,"zero":false},"axis":{"orient":"left","values":[-1.0,-0.5,0.0],"format":".1f","labelPadding":39,"title":"ln f","titleX":-222,"titleY":204.5,"titleAngle":-90,"titleAlign":"center","titleBaseline":"alphabetic"}},
    "detail":{"field":"w","type":"nominal"}}},
  {"data":{"name":"frame"},"mark":{"type":"point","opacity":0},
   "encoding":{
    "x":{"field":"s","type":"quantitative","scale":{"domain":[0,499],"nice":false,"zero":false},"axis":{"orient":"top","values":[0,100,200,300,400],"labels":false,"title":null}},
    "y":{"field":"f","type":"quantitative","scale":{"domain":[-1.283,0.275],"nice":false,"zero":false},"axis":{"orient":"right","values":[-1.0,-0.5,0.0],"labels":false,"title":null}}}}
 ],
 "resolve":{"axis":{"x":"independent","y":"independent"}}}
]
}
